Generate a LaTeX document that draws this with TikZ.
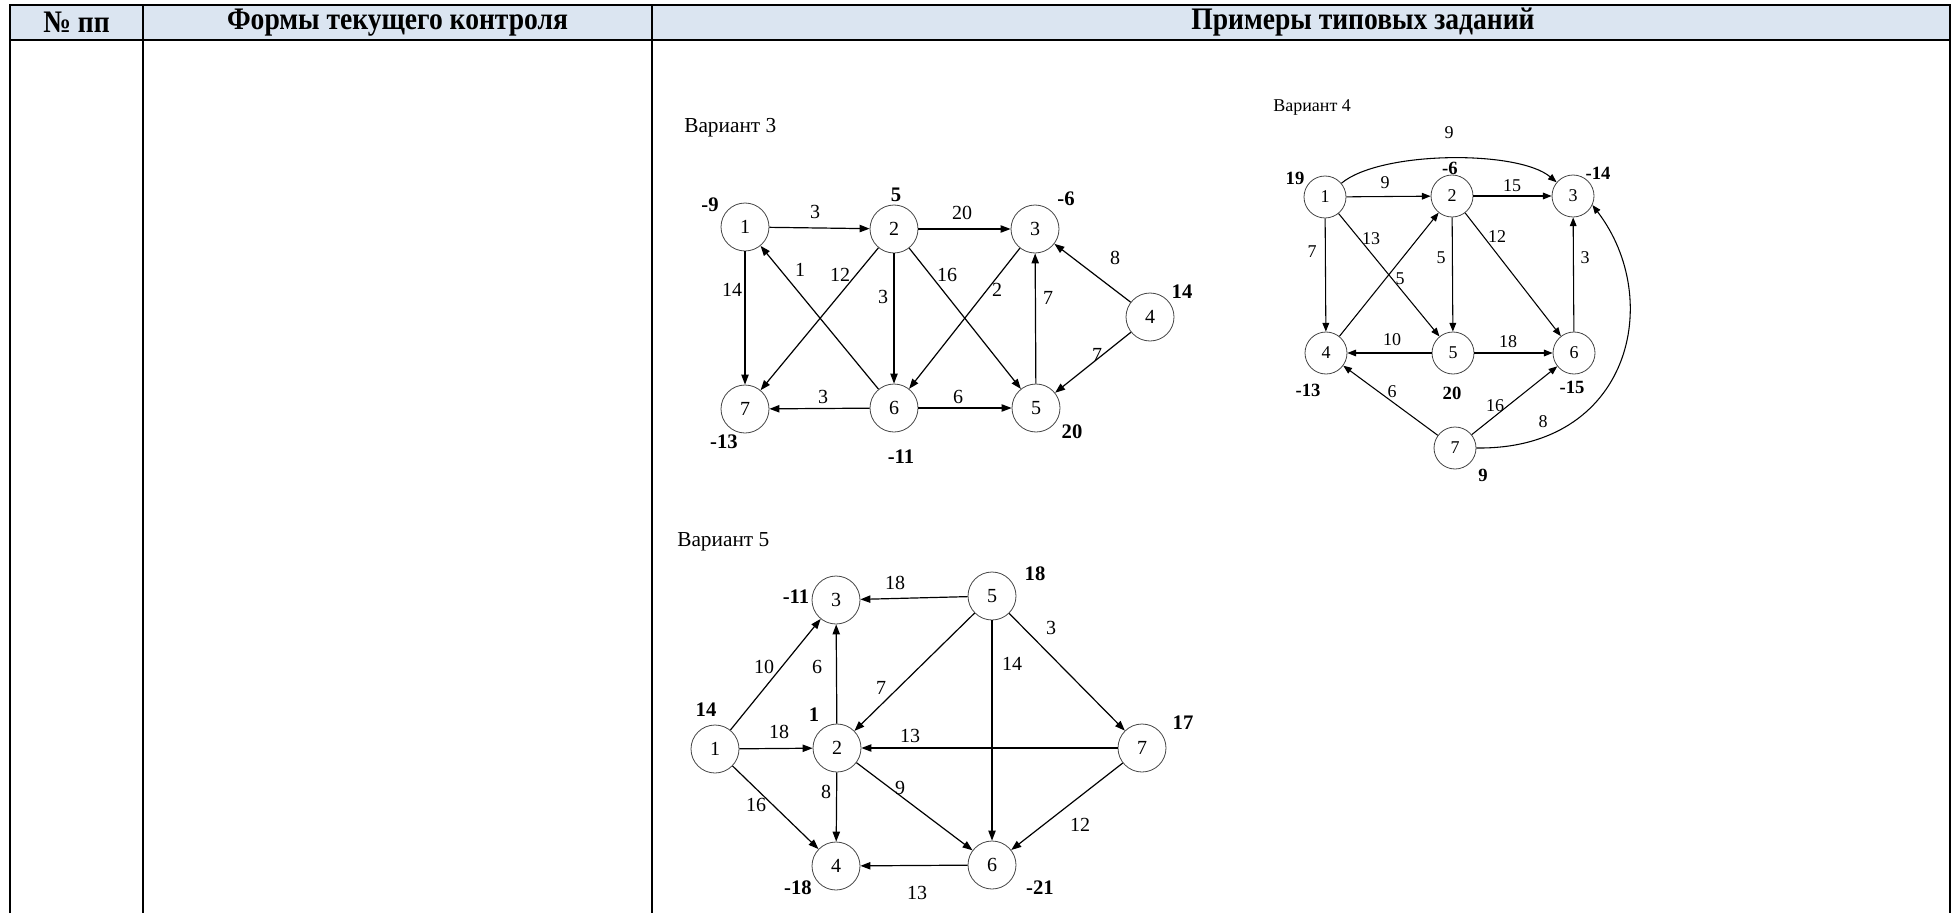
\documentclass[tikz,border=0pt]{standalone}
\usepackage{fontspec}
\setmainfont{Liberation Serif}
\newfontfamily\headfont[FakeStretch=0.88]{Liberation Serif}
\usepackage{tikz}
\usepackage{xcolor}
\usetikzlibrary{arrows.meta}
\definecolor{headblue}{HTML}{DBE5F1}
\definecolor{circgray}{HTML}{444444}

\begin{document}
\begin{tikzpicture}[x=0.75pt, y=-0.75pt, >={Triangle[length=7.5pt, width=5.5pt]}]
\tikzstyle{head}=[inner sep=0pt, font=\headfont\fontsize{23.5}{23.5}\selectfont\bfseries]
\tikzstyle{title}=[anchor=west, inner sep=0pt, font=\fontsize{16}{16}\selectfont]
\tikzstyle{vert}=[draw=circgray, circle, minimum size=36pt, inner sep=0pt, line width=0.6pt, font=\fontsize{15}{15}\selectfont]
\tikzstyle{wt}=[inner sep=0pt, font=\fontsize{15}{15}\selectfont]
\tikzstyle{supply}=[inner sep=0pt, font=\fontsize{15.5}{15.5}\selectfont\bfseries]
\tikzstyle{link}=[->, line width=0.9pt]
\tikzstyle{rule}=[line width=1.5pt]
\useasboundingbox (0,0) rectangle (1954,913);
\fill[headblue] (10,5) rectangle (1950,40);
\draw[rule] (10,913) -- (10,5) -- (1950,5) -- (1950,913);
\draw[rule] (10,40) -- (1950,40);
\draw[rule] (143,5) -- (143,913);
\draw[rule] (652,5) -- (652,913);
\node[head] (h1) at (76.5,22.5) {№ пп};
\node[head] (h2) at (397.5,22.5) {Формы текущего контроля};
\node[head] (h3) at (1363,22.5) {Примеры типовых заданий};

% Вариант 3
\node[title] (t3) at (684,128) {Вариант 3};
\node[vert] (a1) at (745,227) {1};
\node[vert] (a2) at (894,229) {2};
\node[vert] (a3) at (1035,229) {3};
\node[vert] (a4) at (1150,317) {4};
\node[vert] (a5) at (1036,408) {5};
\node[vert] (a6) at (894,408) {6};
\node[vert] (a7) at (745,409) {7};
\draw[link] (a1) -- (a2);
\draw[link] (a2) -- (a3);
\draw[link] (a1) -- (a7);
\draw[link] (a6) -- (a1);
\draw[link] (a2) -- (a7);
\draw[link] (a2) -- (a6);
\draw[link] (a2) -- (a5);
\draw[link] (a3) -- (a6);
\draw[link] (a5) -- (a3);
\draw[link] (a4) -- (a3);
\draw[link] (a4) -- (a5);
\draw[link] (a6) -- (a7);
\draw[link] (a6) -- (a5);
\node[wt] (a12w) at (815,212) {3};
\node[wt] (a23w) at (962,213) {20};
\node[wt] (a17w) at (732,290) {14};
\node[wt] (a61w) at (800,270) {1};
\node[wt] (a27w) at (840,275) {12};
\node[wt] (a26w) at (883,297) {3};
\node[wt] (a25w) at (947,275) {16};
\node[wt] (a36w) at (997,290) {2};
\node[wt] (a53w) at (1048,298) {7};
\node[wt] (a43w) at (1115,258) {8};
\node[wt] (a45w) at (1097,355) {7};
\node[wt] (a67w) at (823,397) {3};
\node[wt] (a65w) at (958,397) {6};
\node[supply] (a1s) at (710,205) {-9};
\node[supply] (a2s) at (896,195) {5};
\node[supply] (a3s) at (1066,199) {-6};
\node[supply] (a4s) at (1182,292) {14};
\node[supply] (a5s) at (1072,432) {20};
\node[supply] (a6s) at (901,457) {-11};
\node[supply] (a7s) at (724,442) {-13};

% Вариант 4
\tikzstyle{title4}=[title, font=\fontsize{13.5}{13.5}\selectfont]
\tikzstyle{vert4}=[vert, minimum size=31.5pt, font=\fontsize{13.5}{13.5}\selectfont]
\tikzstyle{wt4}=[wt, font=\fontsize{13.5}{13.5}\selectfont]
\tikzstyle{supply4}=[supply, font=\fontsize{14}{14}\selectfont\bfseries]
\tikzstyle{link4}=[->, line width=0.8pt, >={Triangle[length=6.5pt, width=5pt]}]
\node[title4] (t4) at (1273,107) {Вариант 4};
\node[vert4] (b1) at (1325,197) {1};
\node[vert4] (b2) at (1452,196) {2};
\node[vert4] (b3) at (1573,196) {3};
\node[vert4] (b4) at (1326,353) {4};
\node[vert4] (b5) at (1453,353) {5};
\node[vert4] (b6) at (1574,353) {6};
\node[vert4] (b7) at (1455,448) {7};
\draw[link4] (b1) to[out=40, in=140, looseness=0.6] (b3);
\draw[link4] (b1) -- (b2);
\draw[link4] (b2) -- (b3);
\draw[link4] (b1) -- (b4);
\draw[link4] (b1) -- (b5);
\draw[link4] (b2) -- (b5);
\draw[link4] (b4) -- (b2);
\draw[link4] (b2) -- (b6);
\draw[link4] (b6) -- (b3);
\draw[link4] (b5) -- (b4);
\draw[link4] (b5) -- (b6);
\draw[link4] (b7) -- (b4);
\draw[link4] (b7) -- (b6);
\draw[link4] (b7.east) .. controls (1630,450) and (1665,300) .. (b3.-25);
\node[wt4] (b13w) at (1449,133) {9};
\node[wt4] (b12w) at (1385,183) {9};
\node[wt4] (b23w) at (1512,186) {15};
\node[wt4] (b14w) at (1312,252) {7};
\node[wt4] (b15w) at (1371,239) {13};
\node[wt4] (b25w) at (1441,258) {5};
\node[wt4] (b42w) at (1400,279) {5};
\node[wt4] (b26w) at (1497,237) {12};
\node[wt4] (b63w) at (1585,258) {3};
\node[wt4] (b54w) at (1392,340) {10};
\node[wt4] (b56w) at (1508,342) {18};
\node[wt4] (b74w) at (1392,392) {6};
\node[wt4] (b76w) at (1495,406) {16};
\node[wt4] (b73w) at (1543,422) {8};
\node[supply4] (b1s) at (1295,178) {19};
\node[supply4] (b2s) at (1450,168) {-6};
\node[supply4] (b3s) at (1598,173) {-14};
\node[supply4] (b4s) at (1308,390) {-13};
\node[supply4] (b5s) at (1452,393) {20};
\node[supply4] (b6s) at (1572,387) {-15};
\node[supply4] (b7s) at (1483,475) {9};

% Вариант 5
\node[title] (t5) at (677,542) {Вариант 5};
\node[vert] (c1) at (715,749) {1};
\node[vert] (c2) at (837,748) {2};
\node[vert] (c3) at (836,600) {3};
\node[vert] (c4) at (836,866) {4};
\node[vert] (c5) at (992,596) {5};
\node[vert] (c6) at (992,865) {6};
\node[vert] (c7) at (1142,748) {7};
\draw[link] (c5) -- (c3);
\draw[link] (c1) -- (c3);
\draw[link] (c2) -- (c3);
\draw[link] (c5) -- (c2);
\draw[link] (c5) -- (c6);
\draw[link] (c5) -- (c7);
\draw[link] (c1) -- (c2);
\draw[link] (c7) -- (c2);
\draw[link] (c1) -- (c4);
\draw[link] (c2) -- (c4);
\draw[link] (c2) -- (c6);
\draw[link] (c7) -- (c6);
\draw[link] (c6) -- (c4);
\node[wt] (c53w) at (895,583) {18};
\node[wt] (c13w) at (764,667) {10};
\node[wt] (c23w) at (817,667) {6};
\node[wt] (c52w) at (881,688) {7};
\node[wt] (c56w) at (1012,664) {14};
\node[wt] (c57w) at (1051,628) {3};
\node[wt] (c12w) at (779,732) {18};
\node[wt] (c72w) at (910,736) {13};
\node[wt] (c14w) at (756,805) {16};
\node[wt] (c24w) at (826,792) {8};
\node[wt] (c26w) at (900,788) {9};
\node[wt] (c76w) at (1080,825) {12};
\node[wt] (c64w) at (917,893) {13};
\node[supply] (c1s) at (706,710) {14};
\node[supply] (c2s) at (814,715) {1};
\node[supply] (c3s) at (796,597) {-11};
\node[supply] (c4s) at (798,888) {-18};
\node[supply] (c5s) at (1035,574) {18};
\node[supply] (c6s) at (1040,888) {-21};
\node[supply] (c7s) at (1183,723) {17};
\end{tikzpicture}
\end{document}
